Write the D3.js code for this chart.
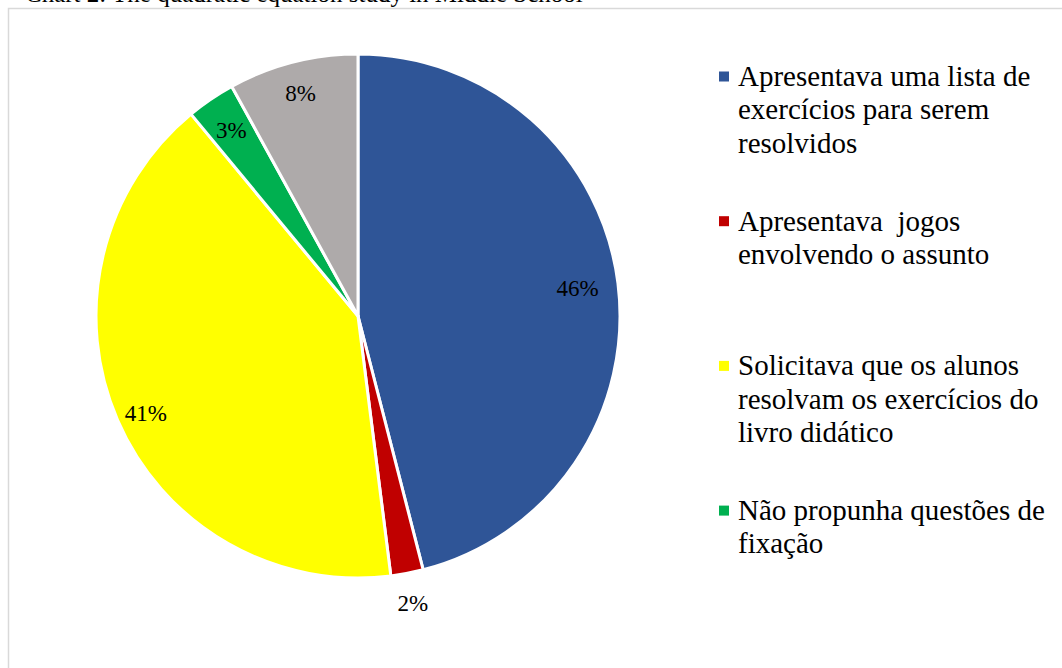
<!DOCTYPE html>
<html>
<head>
<meta charset="utf-8">
<script src="https://cdn.jsdelivr.net/npm/d3@7"></script>
<style>
  html, body { margin: 0; padding: 0; background: #ffffff; }
  svg { display: block; }
  text { font-family: "Liberation Serif", "Times New Roman", serif; fill: #000; white-space: pre; }
</style>
</head>
<body>
<svg id="chart" width="1062" height="668"></svg>
<script>
// Survey answers: how teachers handled practice of the quadratic equation
const categories = [
  "Apresentava uma lista de exercícios para serem resolvidos",
  "Apresentava  jogos envolvendo o assunto",
  "Solicitava que os alunos resolvam os exercícios do livro didático",
  "Não propunha questões de fixação",
  "Outros"
];
const shares = [46, 2, 41, 3, 8];
const colors = ["#2F5597", "#C00000", "#FFFF00", "#00B050", "#AEAAAA"];
// Legend lines as wrapped inside the legend box (only four entries fit)
const legendLines = [
  ["Apresentava uma lista de", "exercícios para serem", "resolvidos"],
  ["Apresentava  jogos", "envolvendo o assunto"],
  ["Solicitava que os alunos", "resolvam os exercícios do", "livro didático"],
  ["Não propunha questões de", "fixação"]
];
const title = "Chart 2: The quadratic equation study in Middle School";

const svg = d3.select("#chart");

// Caption sitting above the chart frame
svg.append("text")
  .attr("x", 25).attr("y", 2)
  .style("font-size", "25px")
  .text(title);

// Chart frame (extends past the visible area on the right and bottom)
svg.append("rect")
  .attr("x", 8.5).attr("y", 8.5)
  .attr("width", 1100).attr("height", 700)
  .attr("fill", "none")
  .attr("stroke", "#d9d9d9")
  .attr("stroke-width", 1.5);

const cx = 358, cy = 316, r = 262;

const pie = d3.pie().sort(null).value(d => d.value);
const data = pie(categories.map((c, i) => ({ name: c, value: shares[i], color: colors[i] })));

const arc = d3.arc().innerRadius(0).outerRadius(r);
const g = svg.append("g").attr("transform", `translate(${cx},${cy})`);

g.selectAll("path.slice")
  .data(data)
  .join("path")
  .attr("class", "slice")
  .attr("d", arc)
  .attr("fill", d => d.data.color)
  .attr("stroke", "#ffffff")
  .attr("stroke-width", 3)
  .attr("stroke-linejoin", "round");

// Data labels: best-fit placement, the thin red slice gets its label outside
const labelRadius = [0.845, 1.115, 0.89, 0.86, 0.88];
const labelTurn = [0, 0, -0.02, 0, 0];   // small angular nudge in radians

g.selectAll("text.label")
  .data(data)
  .join("text")
  .attr("class", "label")
  .attr("transform", (d, i) => {
    const a = (d.startAngle + d.endAngle) / 2 + labelTurn[i];
    const rr = r * labelRadius[i];
    return `translate(${rr * Math.sin(a)},${-rr * Math.cos(a)})`;
  })
  .attr("text-anchor", "middle")
  .attr("dy", "0.35em")
  .style("font-size", "23px")
  .text(d => d.data.value + "%");

// Legend
const legendX = 719, legendTop = 86, entryStep = 144.7, lineStep = 33.3;
const legend = svg.append("g");
legendLines.forEach((lines, i) => {
  const y0 = legendTop + i * entryStep;
  legend.append("rect")
    .attr("x", legendX).attr("y", y0 - 14.5)
    .attr("width", 10).attr("height", 10)
    .attr("fill", colors[i]);
  const t = legend.append("text")
    .attr("x", legendX + 19).attr("y", y0)
    .style("font-size", "29px");
  lines.forEach((ln, j) => {
    t.append("tspan")
      .attr("x", legendX + 19)
      .attr("y", y0 + j * lineStep)
      .text(ln);
  });
});
</script>
</body>
</html>
